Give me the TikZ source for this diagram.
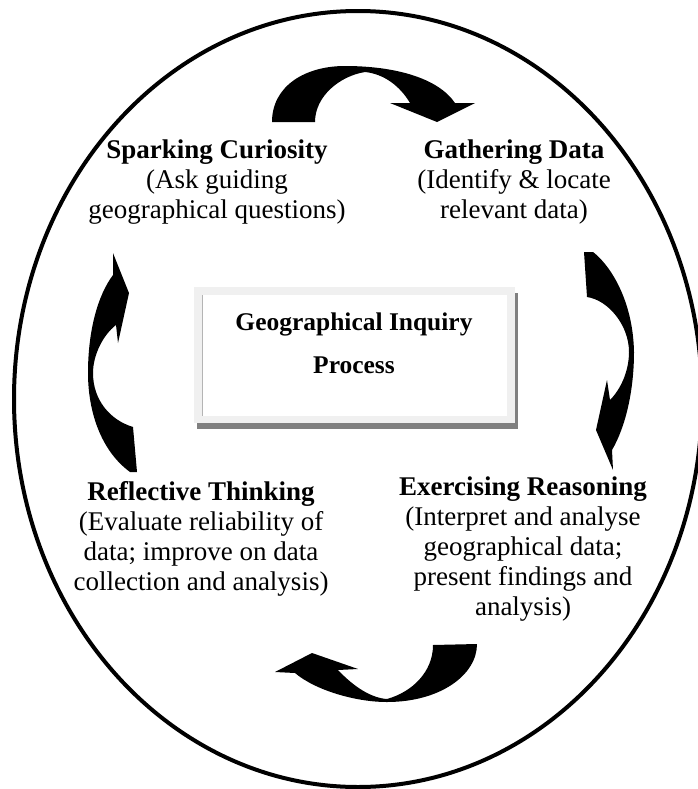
\documentclass[tikz,border=0pt]{standalone}
\usepackage{fontspec}
\setmainfont{Liberation Serif}
\definecolor{shadowgray}{HTML}{808080}
\definecolor{framegray}{HTML}{F0F0F0}
\definecolor{edgegray}{HTML}{B4B4B4}
\begin{document}
\begin{tikzpicture}[x=0.75pt,y=-0.75pt,
  lbl/.style={anchor=base,inner sep=0pt,font=\fontsize{20.25pt}{22.5pt}\selectfont},
  ctr/.style={anchor=base,inner sep=0pt,font=\fontsize{19.1pt}{32.25pt}\selectfont\bfseries},
  blk/.style={fill=black,draw=none}]
\useasboundingbox (0,0) rectangle (697,789);
% outer ellipse
\draw[line width=3pt] (358,399) ellipse [x radius=258pt, y radius=291pt];
% centre box
\fill[shadowgray] (197,293) rectangle (518,429);
\fill[framegray] (194,287) rectangle (515,423);
\fill[white] (202,295) rectangle (507,416);
\draw[edgegray, line width=0.6pt] (202,295) -- (202,416);
\node[ctr] (center) at (354,330) {\begin{tabular}[t]{@{}c@{}}Geographical Inquiry\\Process\end{tabular}};
% labels
\node[lbl] (spark) at (217,158) {\begin{tabular}[t]{@{}c@{}}\textbf{Sparking Curiosity}\\(Ask guiding\\geographical questions)\end{tabular}};
\node[lbl] (gather) at (514,158) {\begin{tabular}[t]{@{}c@{}}\textbf{Gathering Data}\\(Identify \& locate\\relevant data)\end{tabular}};
\node[lbl] (reflect) at (201,500) {\begin{tabular}[t]{@{}c@{}}\textbf{Reflective Thinking}\\(Evaluate reliability of\\data; improve on data\\collection and analysis)\end{tabular}};
\node[lbl] (reason) at (523,495) {\begin{tabular}[t]{@{}c@{}}\textbf{Exercising Reasoning}\\(Interpret and analyse\\geographical data;\\present findings and\\analysis)\end{tabular}};
% top curved arrow
\fill[blk] (272,122) .. controls (272,86) and (305,66) .. (345,66)
  .. controls (395,66) and (438,78) .. (455,103) -- (475,103) -- (437,122) -- (390,103) -- (410,103)
  .. controls (400,86) and (384,74) .. (365,72)
  .. controls (340,76) and (315,96) .. (315,122) -- cycle;
% right curved arrow
\fill[blk] (584,252) -- (593,252) .. controls (610,265) and (633,300) .. (634,352)
  .. controls (634,392) and (625,428) .. (612,450) -- (613,470) -- (596,430) -- (607,380) -- (610,400)
  .. controls (620,390) and (629,372) .. (629,352)
  .. controls (629,325) and (608,300) .. (587,297) -- cycle;
% bottom curved arrow
\fill[blk] (433,645) -- (477,644) .. controls (477,675) and (440,702) .. (387,702)
  .. controls (355,702) and (315,690) .. (295,673) -- (275,672) -- (312,653) -- (358,669) -- (338,670)
  .. controls (355,688) and (372,698) .. (387,699)
  .. controls (412,692) and (433,672) .. (433,645) -- cycle;
% left curved arrow
\fill[blk] (137,472) -- (130,472) .. controls (100,450) and (88,410) .. (88,373)
  .. controls (88,330) and (98,295) .. (113,275) -- (113,253) -- (129,293) -- (118,343) -- (116,325)
  .. controls (103,335) and (93,355) .. (93,373)
  .. controls (93,400) and (110,420) .. (133,427) -- cycle;
\end{tikzpicture}
\end{document}
